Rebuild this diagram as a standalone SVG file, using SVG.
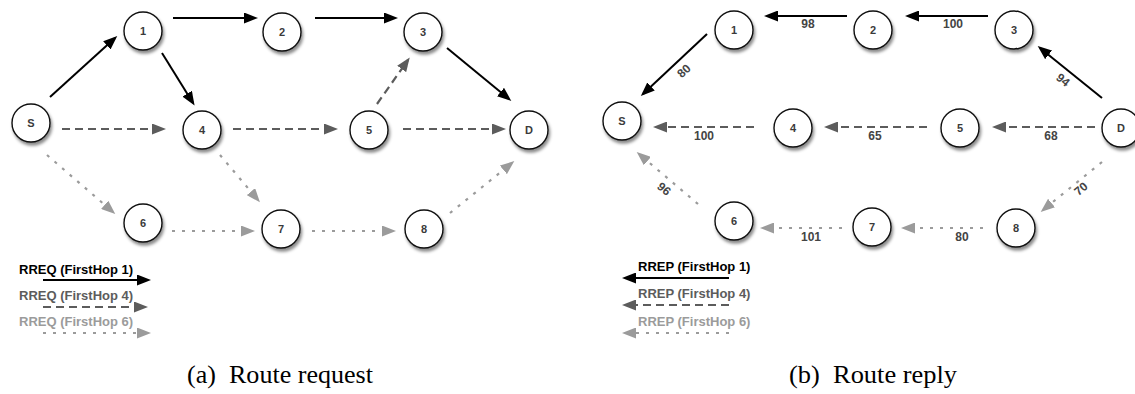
<svg xmlns="http://www.w3.org/2000/svg" width="1135" height="394" viewBox="0 0 1135 394">
  <defs>
    <filter id="shadow" x="-40%" y="-40%" width="180%" height="190%">
      <feDropShadow dx="1.5" dy="3" stdDeviation="1.8" flood-color="#000" flood-opacity="0.45"/>
    </filter>
    <marker id="ah-black" markerUnits="userSpaceOnUse" markerWidth="14" markerHeight="11" refX="11" refY="5.5" orient="auto">
      <path d="M0,0 L14,5.5 L0,11 Z" fill="#000"/>
    </marker>
    <marker id="ah-dark" markerUnits="userSpaceOnUse" markerWidth="14" markerHeight="11" refX="11" refY="5.5" orient="auto">
      <path d="M0,0 L14,5.5 L0,11 Z" fill="#5c5c5c"/>
    </marker>
    <marker id="ah-light" markerUnits="userSpaceOnUse" markerWidth="14" markerHeight="11" refX="11" refY="5.5" orient="auto">
      <path d="M0,0 L14,5.5 L0,11 Z" fill="#9b9b9b"/>
    </marker>
  </defs>
  <style>
    .node circle { fill: #fff; stroke: #111; stroke-width: 1.4; filter: url(#shadow); }
    .node text { font-family: "Liberation Sans", Arial, sans-serif; font-weight: bold; font-size: 11px; fill: #3a3a3a; text-anchor: middle; dominant-baseline: central; }
    .solid { stroke: #000; stroke-width: 2; fill: none; marker-end: url(#ah-black); }
    .dash { stroke: #5c5c5c; stroke-width: 2.2; fill: none; stroke-dasharray: 8 5; marker-end: url(#ah-dark); }
    .dot { stroke: #9b9b9b; stroke-width: 2.2; fill: none; stroke-dasharray: 3 7; marker-end: url(#ah-light); }
    .lbl { font-family: "Liberation Sans", Arial, sans-serif; font-weight: bold; font-size: 12px; fill: #444; text-anchor: middle; }
    .rot { dominant-baseline: central; }
    .legend { font-family: "Liberation Sans", Arial, sans-serif; font-weight: bold; font-size: 13px; }
    .caption { font-family: "Liberation Serif", "Times New Roman", serif; font-size: 25px; fill: #000; }
  </style>

  <!-- Route request: connectors -->
  <g id="req-connectors">
    <line class="solid" x1="50" y1="97" x2="115" y2="38"/>
    <line class="solid" x1="173" y1="18" x2="255" y2="18"/>
    <line class="solid" x1="315" y1="18" x2="395" y2="18"/>
    <line class="solid" x1="162" y1="53" x2="193" y2="103"/>
    <line class="solid" x1="447" y1="48" x2="509" y2="99"/>
    <line class="dash" x1="62" y1="129" x2="163" y2="129"/>
    <line class="dash" x1="233" y1="129" x2="335" y2="129"/>
    <line class="dash" x1="403" y1="129" x2="503" y2="129"/>
    <line class="dash" x1="377" y1="104" x2="408" y2="60"/>
    <line class="dot" x1="47" y1="155" x2="113" y2="212"/>
    <line class="dot" x1="220" y1="155" x2="258" y2="200"/>
    <line class="dot" x1="172" y1="231" x2="252" y2="231"/>
    <line class="dot" x1="312" y1="231" x2="393" y2="231"/>
    <line class="dot" x1="450" y1="213" x2="512" y2="163"/>
  </g>

  <!-- Route request: nodes -->
  <g id="req-S" class="node"><circle cx="31" cy="123" r="19"/><text x="31" y="123">S</text></g>
  <g id="req-1" class="node"><circle cx="143" cy="31" r="19"/><text x="143" y="31">1</text></g>
  <g id="req-2" class="node"><circle cx="282" cy="32" r="19"/><text x="282" y="32">2</text></g>
  <g id="req-3" class="node"><circle cx="423" cy="32" r="19"/><text x="423" y="32">3</text></g>
  <g id="req-4" class="node"><circle cx="202" cy="130" r="19"/><text x="202" y="130">4</text></g>
  <g id="req-5" class="node"><circle cx="369" cy="130" r="19"/><text x="369" y="130">5</text></g>
  <g id="req-D" class="node"><circle cx="529" cy="130" r="19"/><text x="529" y="130">D</text></g>
  <g id="req-6" class="node"><circle cx="143" cy="223" r="19"/><text x="143" y="223">6</text></g>
  <g id="req-7" class="node"><circle cx="281" cy="229" r="19"/><text x="281" y="229">7</text></g>
  <g id="req-8" class="node"><circle cx="424" cy="229" r="19"/><text x="424" y="229">8</text></g>

  <!-- Route request: legend -->
  <g id="req-legend">
    <text class="legend" x="19" y="274" fill="#000">RREQ (FirstHop 1)</text>
    <line class="solid" x1="43" y1="280" x2="148" y2="280"/>
    <text class="legend" x="19" y="300" fill="#5c5c5c">RREQ (FirstHop 4)</text>
    <line class="dash" x1="43" y1="307" x2="145" y2="307"/>
    <text class="legend" x="19" y="326" fill="#9b9b9b">RREQ (FirstHop 6)</text>
    <line class="dot" x1="43" y1="333" x2="148" y2="333"/>
  </g>

  <!-- Route reply: connectors -->
  <g id="rep-connectors">
    <line class="solid" x1="847" y1="16" x2="767" y2="16"/>
    <line class="solid" x1="988" y1="16" x2="908" y2="16"/>
    <line class="solid" x1="707" y1="34" x2="643" y2="94"/>
    <line class="solid" x1="1102" y1="98" x2="1040" y2="48"/>
    <line class="dash" x1="754" y1="127" x2="656" y2="127"/>
    <line class="dash" x1="927" y1="127" x2="827" y2="127"/>
    <line class="dash" x1="1095" y1="127" x2="995" y2="127"/>
    <line class="dot" x1="698" y1="204" x2="639" y2="154"/>
    <line class="dot" x1="1102" y1="162" x2="1043" y2="210"/>
    <line class="dot" x1="842" y1="228" x2="763" y2="228"/>
    <line class="dot" x1="983" y1="228" x2="904" y2="228"/>
    <text class="lbl" x="808" y="28">98</text>
    <text class="lbl" x="953" y="28">100</text>
    <text class="lbl rot" transform="translate(684,71) rotate(-43)">80</text>
    <text class="lbl rot" transform="translate(1063,80) rotate(39)">94</text>
    <text class="lbl" x="704" y="140">100</text>
    <text class="lbl" x="875" y="140">65</text>
    <text class="lbl" x="1051" y="140">68</text>
    <text class="lbl rot" transform="translate(664,189) rotate(40)">96</text>
    <text class="lbl rot" transform="translate(1081,189) rotate(-40)">70</text>
    <text class="lbl" x="811" y="241">101</text>
    <text class="lbl" x="962" y="241">80</text>
  </g>

  <!-- Route reply: nodes -->
  <g id="rep-S" class="node"><circle cx="622" cy="121" r="19"/><text x="622" y="121">S</text></g>
  <g id="rep-1" class="node"><circle cx="734" cy="30" r="19"/><text x="734" y="30">1</text></g>
  <g id="rep-2" class="node"><circle cx="873" cy="30" r="19"/><text x="873" y="30">2</text></g>
  <g id="rep-3" class="node"><circle cx="1014" cy="30" r="19"/><text x="1014" y="30">3</text></g>
  <g id="rep-4" class="node"><circle cx="793" cy="128" r="19"/><text x="793" y="128">4</text></g>
  <g id="rep-5" class="node"><circle cx="960" cy="128" r="19"/><text x="960" y="128">5</text></g>
  <g id="rep-D" class="node"><circle cx="1121" cy="128" r="19"/><text x="1121" y="128">D</text></g>
  <g id="rep-6" class="node"><circle cx="734" cy="221" r="19"/><text x="734" y="221">6</text></g>
  <g id="rep-7" class="node"><circle cx="872" cy="227" r="19"/><text x="872" y="227">7</text></g>
  <g id="rep-8" class="node"><circle cx="1016" cy="228" r="19"/><text x="1016" y="228">8</text></g>

  <!-- Route reply: legend -->
  <g id="rep-legend">
    <text class="legend" x="638" y="271" fill="#000">RREP (FirstHop 1)</text>
    <line class="solid" x1="729" y1="278" x2="625" y2="278"/>
    <text class="legend" x="638" y="298" fill="#5c5c5c">RREP (FirstHop 4)</text>
    <line class="dash" x1="729" y1="305" x2="625" y2="305"/>
    <text class="legend" x="638" y="326" fill="#9b9b9b">RREP (FirstHop 6)</text>
    <line class="dot" x1="729" y1="333" x2="625" y2="333"/>
  </g>

  <!-- Sub-figure captions -->
  <text class="caption" x="187" y="383" xml:space="preserve" textLength="186" lengthAdjust="spacingAndGlyphs">(a)  Route request</text>
  <text class="caption" x="789" y="383" xml:space="preserve" textLength="168" lengthAdjust="spacingAndGlyphs">(b)  Route reply</text>
</svg>
